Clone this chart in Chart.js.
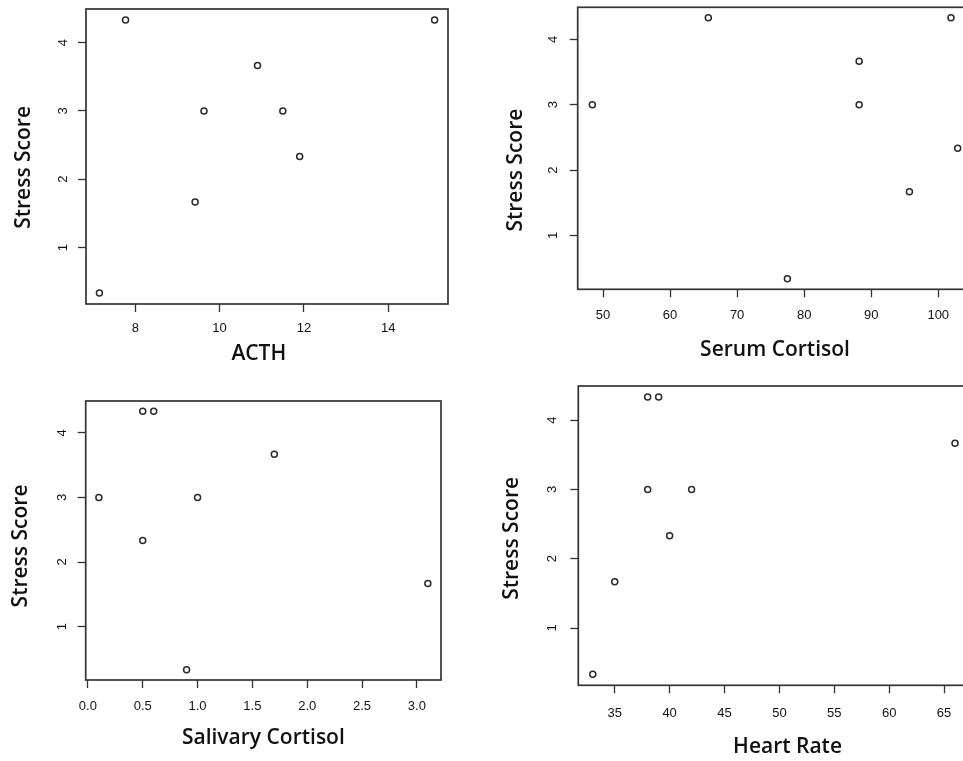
<!DOCTYPE html>
<html>
<head>
<meta charset="utf-8">
<script src="https://cdn.jsdelivr.net/npm/chart.js@4"></script>
<style>
  html, body { margin: 0; padding: 0; background: #fff; width: 963px; height: 761px; overflow: hidden; }
  .painel { position: absolute; }
  canvas { display: block; }
</style>
</head>
<body>
<div class="painel" style="left:0;top:0"><canvas id="g1" width="470" height="370"></canvas></div>
<div class="painel" style="left:480px;top:0"><canvas id="g2" width="500" height="370"></canvas></div>
<div class="painel" style="left:0;top:370px"><canvas id="g3" width="470" height="391"></canvas></div>
<div class="painel" style="left:480px;top:370px"><canvas id="g4" width="500" height="391"></canvas></div>
<script>
// dados (x = marcador, y = stress score)
const acth = [7.15, 7.77, 9.42, 9.63, 10.9, 11.5, 11.9, 15.1];
const stressACTH = [0.333, 4.333, 1.667, 3, 3.667, 3, 2.333, 4.333];

const serumCortisol = [48.4, 65.7, 77.5, 88.2, 88.2, 95.7, 101.9, 102.9];
const stressSerum = [3, 4.333, 0.333, 3.667, 3, 1.667, 4.333, 2.333];

const salivaryCortisol = [0.1, 0.5, 0.6, 0.5, 0.9, 1.0, 1.7, 3.1];
const stressSalivary = [3, 4.333, 4.333, 2.333, 0.333, 3, 3.667, 1.667];

const heartRate = [33, 35, 38, 39, 38, 40, 42, 66];
const stressHR = [0.333, 1.667, 4.333, 4.333, 3, 2.333, 3, 3.667];

const yTicks = [1, 2, 3, 4];

// limites no estilo do R (4% de folga)
function rRange(arr) {
    const min = Math.min(...arr), max = Math.max(...arr);
    const r = max - min;
    return [min - 0.04 * r, max + 0.04 * r];
}

const tickFont = { family: "'Liberation Sans', Arial, sans-serif", size: 13 };
const titleFont = { family: "'Open Sans', sans-serif", size: 21, weight: '600' };

const gridOpts = {
    drawOnChartArea: false,
    drawTicks: true,
    tickLength: 8,
    tickColor: '#333',
    tickWidth: 1.3,
    color: '#333'
};

// moldura em volta da area do grafico
const moldura = {
    id: 'moldura',
    afterDraw(chart) {
        const a = chart.chartArea;
        const ctx = chart.ctx;
        ctx.save();
        ctx.strokeStyle = '#333';
        ctx.lineWidth = 1.7;
        ctx.strokeRect(a.left, a.top, a.right - a.left, a.bottom - a.top);
        ctx.restore();
    }
};

function makePanel(id, xs, ys, cfg) {
    const xr = rRange(xs);
    const yr = rRange(ys);
    const pontos = xs.map((x, i) => ({ x: x, y: ys[i] }));

    new Chart(document.getElementById(id), {
        type: 'scatter',
        data: {
            datasets: [{
                data: pontos,
                pointRadius: 3,
                pointHoverRadius: 3,
                borderWidth: 1.5,
                borderColor: '#2a2a2a',
                backgroundColor: 'rgba(0,0,0,0)'
            }]
        },
        options: {
            responsive: false,
            animation: false,
            layout: { padding: { top: cfg.top, right: cfg.right, left: 0, bottom: 0 } },
            plugins: {
                legend: { display: false },
                tooltip: { enabled: false }
            },
            scales: {
                x: {
                    type: 'linear',
                    min: xr[0],
                    max: xr[1],
                    afterFit: function(s) {
                        s.height = cfg.xh;
                        s.paddingLeft = 0;
                        s.paddingRight = 0;
                    },
                    ticks: {
                        stepSize: cfg.step,
                        includeBounds: false,
                        autoSkip: false,
                        maxRotation: 0,
                        padding: cfg.xtp,
                        color: '#111',
                        font: tickFont,
                        callback: function(v) { return v.toFixed(cfg.dec); }
                    },
                    grid: gridOpts,
                    border: { display: false },
                    title: {
                        display: true,
                        text: cfg.xlabel,
                        color: '#111',
                        font: titleFont,
                        padding: { top: 0, bottom: cfg.xtb }
                    }
                },
                y: {
                    type: 'linear',
                    min: yr[0],
                    max: yr[1],
                    afterFit: function(s) {
                        s.width = cfg.yw;
                        s.paddingTop = 0;
                        s.paddingBottom = 0;
                    },
                    afterBuildTicks: function(s) { s.ticks = yTicks.map(v => ({ value: v })); },
                    ticks: {
                        minRotation: 90,
                        maxRotation: 90,
                        crossAlign: 'center',
                        padding: cfg.ytp,
                        color: '#111',
                        font: tickFont
                    },
                    grid: gridOpts,
                    border: { display: false },
                    title: {
                        display: true,
                        text: 'Stress Score' + ' '.repeat(cfg.yshift),
                        color: '#111',
                        font: titleFont,
                        padding: { top: cfg.ytt, bottom: 0 }
                    }
                }
            }
        },
        plugins: [moldura]
    });
}

// grafico1
makePanel('g1', acth, stressACTH, {
    top: 9, right: 22, yw: 86, xh: 66, step: 2, dec: 0,
    xtp: 8.5, xtb: 3.6, ytp: 11.4, ytt: 11.4, yshift: 4,
    xlabel: 'ACTH' + '   '
});

// grafico2
makePanel('g2', serumCortisol, stressSerum, {
    top: 7.3, right: 7.7, yw: 97.7, xh: 80.7, step: 10, dec: 0,
    xtp: 9.9, xtb: 7.4, ytp: 13.1, ytt: 23.4, yshift: 8,
    xlabel: 'Serum Cortisol'
});

// grafico3
makePanel('g3', salivaryCortisol, stressSalivary, {
    top: 31, right: 29, yw: 85.7, xh: 81, step: 0.5, dec: 1,
    xtp: 10.9, xtb: 10.4, ytp: 11.6, ytt: 8.2, yshift: 2,
    xlabel: 'Salivary Cortisol'
});

// grafico4
makePanel('g4', heartRate, stressHR, {
    top: 16, right: 10.5, yw: 98.3, xh: 75.7, step: 5, dec: 0,
    xtp: 12.2, xtb: 1.2, ytp: 14.7, ytt: 19.9, yshift: 1,
    xlabel: '     ' + 'Heart Rate'
});
</script>
</body>
</html>
